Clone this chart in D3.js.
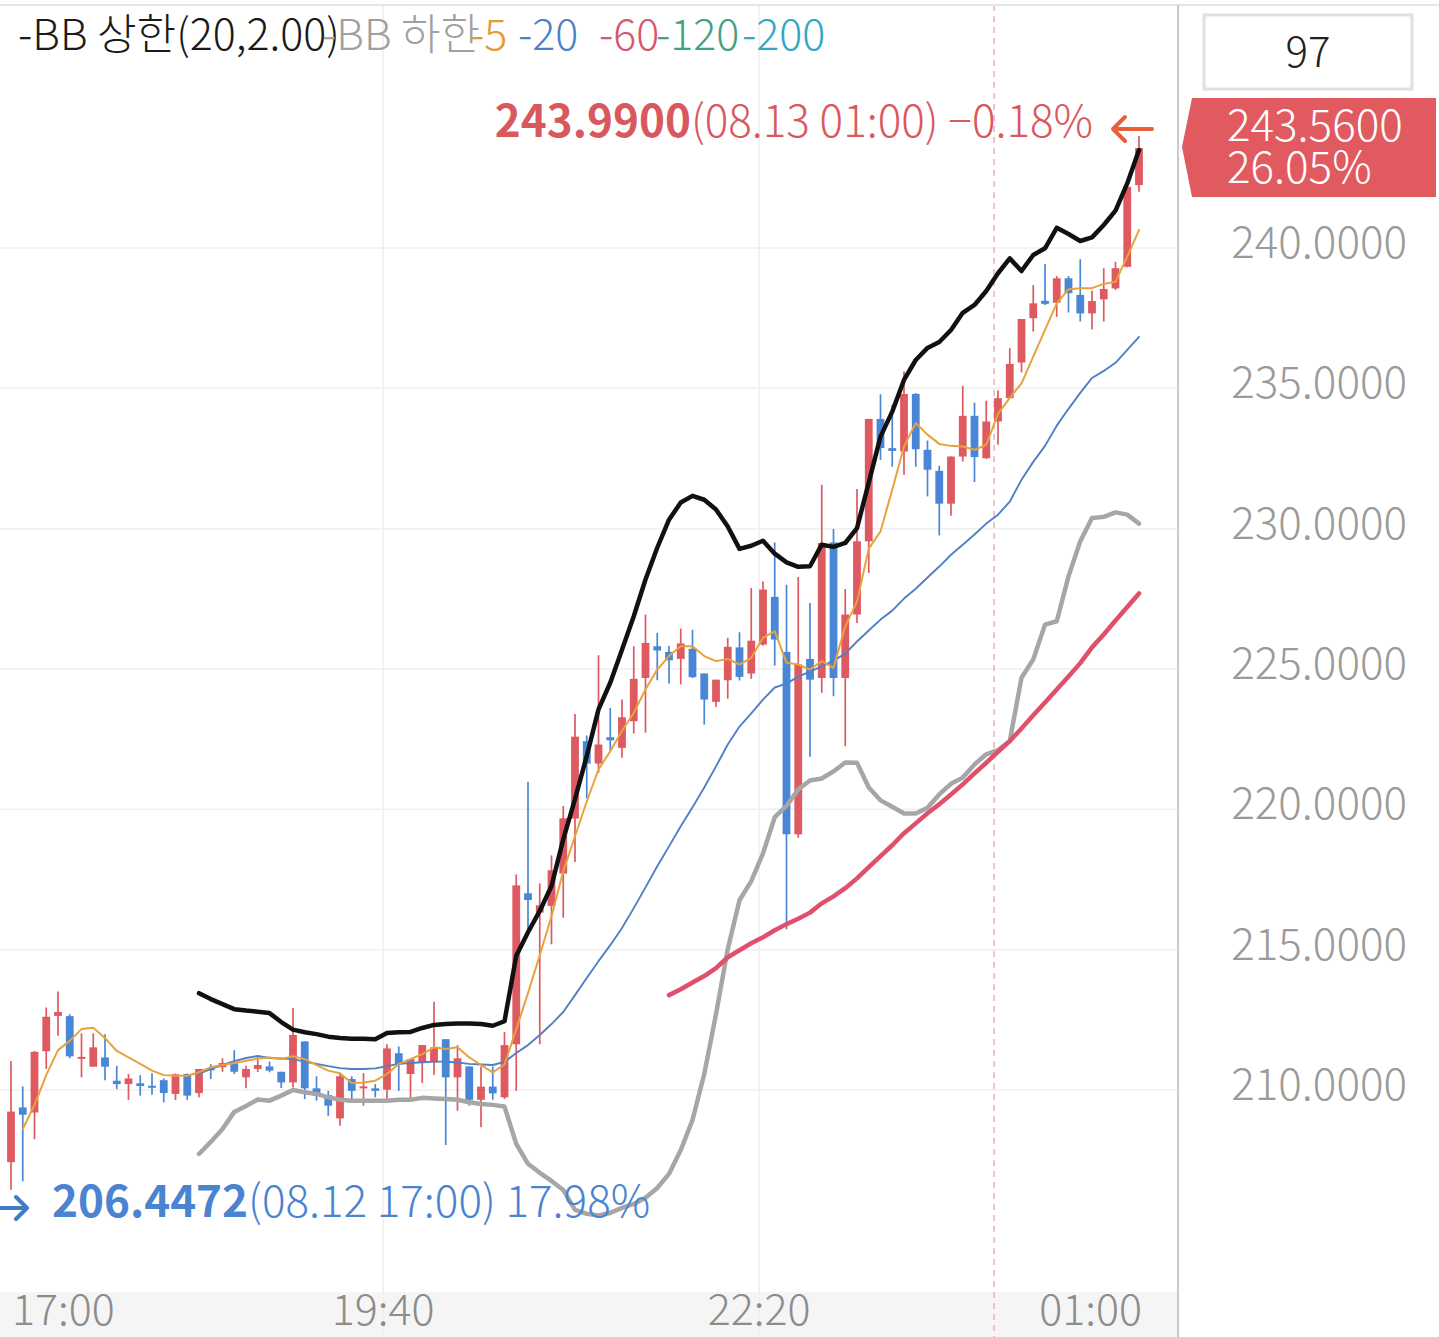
<!DOCTYPE html>
<html><head><meta charset="utf-8">
<script src="https://cdn.jsdelivr.net/npm/d3@7"></script>
<style>html,body{margin:0;padding:0;background:#fff}svg{display:block}</style>
</head><body>
<svg id="c" width="1439" height="1337"></svg>
<script>
// ---------- DATA (5-minute candles, 08.12 17:00 -> 08.13 01:00) ----------
const opens = [207.43,209.38,209.20,211.38,212.64,212.63,211.13,210.83,211.16,210.33,
210.21,210.24,210.15,210.35,209.86,210.57,209.89,210.77,210.81,210.95,
210.45,210.75,210.84,210.65,210.27,211.73,210.06,209.82,208.99,210.39,
210.06,210.06,210.01,211.31,210.57,210.96,210.98,211.81,210.45,210.84,
209.65,210.12,209.74,211.63,217.01,216.32,216.56,217.71,219.67,222.43,
221.63,222.57,222.19,223.14,224.68,225.81,225.61,225.36,225.72,224.84,
223.83,224.60,225.77,224.84,225.87,227.57,225.61,219.11,225.36,224.68,
229.51,224.68,226.94,229.55,233.91,232.87,232.75,234.80,232.81,232.06,
230.89,232.57,234.02,232.51,233.82,234.65,235.92,237.50,238.12,238.05,
238.92,238.33,237.67,238.17,238.56,239.33,242.24];
const highs = [211.03,210.13,211.39,212.94,213.51,212.70,212.02,212.02,211.99,210.86,
210.57,210.53,210.60,210.41,210.59,210.59,210.75,210.92,211.13,211.42,
210.86,211.21,211.01,210.65,212.92,211.73,210.49,209.97,210.57,210.49,
210.60,210.21,211.63,211.55,211.10,211.60,213.14,211.81,211.60,210.84,
210.84,210.84,212.07,217.68,220.98,217.36,218.36,220.12,223.40,222.63,
225.49,223.61,223.91,225.81,226.94,226.29,225.83,226.44,226.40,224.84,
224.62,226.11,226.31,227.89,228.12,229.51,228.00,228.28,227.35,231.56,
229.99,227.85,231.41,233.91,234.79,234.41,235.60,234.83,233.14,232.24,
232.57,235.09,234.49,234.56,234.92,236.43,237.47,238.68,239.43,239.00,
239.00,239.60,238.48,239.28,239.51,242.18,243.99];
const lows = [206.4472,206.75,208.25,210.75,211.93,211.13,210.45,210.83,210.35,210.03,
209.65,209.80,209.83,209.56,209.64,209.65,209.74,210.39,210.65,210.57,
210.06,210.64,210.63,210.07,210.09,209.68,209.62,209.08,208.73,209.68,
209.44,209.74,209.68,209.97,209.68,210.25,210.53,208.04,209.26,209.44,
208.67,209.65,209.68,209.97,215.67,211.63,215.19,216.14,218.12,220.39,
221.30,222.07,221.84,222.70,222.73,224.60,224.48,224.45,224.68,223.02,
223.65,223.94,224.59,224.65,225.83,225.12,215.73,218.99,221.87,224.15,
224.03,222.25,226.64,228.42,232.45,232.21,231.92,232.21,231.15,229.76,
230.46,232.39,231.66,232.48,232.99,234.65,235.57,237.02,237.97,237.55,
237.70,237.38,237.10,237.38,238.50,239.31,242.00];
const closes = [209.23,209.12,211.36,212.61,212.78,211.20,211.18,211.52,210.83,210.21,
210.41,210.14,210.08,209.89,210.56,209.80,210.75,210.72,210.96,210.65,
210.75,210.89,210.69,210.27,211.96,210.06,209.80,209.44,210.49,209.97,
210.13,209.97,211.48,210.92,211.10,211.60,211.52,210.45,211.13,209.65,
210.12,209.88,211.60,217.29,216.77,216.58,217.83,219.68,222.59,221.63,
222.31,222.46,223.28,224.65,225.93,225.66,225.31,225.91,224.71,223.91,
224.62,225.79,224.72,226.01,227.83,226.05,219.11,225.16,224.62,229.49,
224.68,226.94,229.55,233.91,232.87,232.77,234.80,232.83,232.10,230.89,
232.57,234.02,232.55,233.82,234.65,235.87,237.47,238.03,238.01,238.92,
238.39,237.67,238.11,238.54,239.28,242.18,243.56];

const N = null;
const ma5 = [N,208.61,209.47,210.53,211.42,211.75,212.17,212.22,211.85,211.39,211.16,
210.93,210.69,210.53,210.51,210.51,210.63,210.81,210.89,210.96,211.04,
211.12,211.16,211.10,211.20,211.10,210.89,210.69,210.60,210.25,210.27,
210.33,210.57,210.93,211.10,211.28,211.52,211.46,211.52,211.16,210.89,
210.63,210.91,212.17,213.45,214.80,216.19,217.79,219.04,220.28,221.42,
222.07,222.79,223.44,224.27,224.98,225.46,225.81,225.81,225.46,225.28,
225.36,225.16,225.40,226.11,226.35,225.22,225.16,224.98,225.28,225.04,
226.52,227.40,229.29,229.90,231.39,232.93,233.76,233.35,233.02,232.95,
232.93,232.81,232.99,234.09,234.66,235.18,236.13,237.08,238.03,238.53,
238.57,238.57,238.72,238.80,239.69,240.64];
const ma20 = [N,N,N,N,N,N,N,N,N,N,N,N,N,N,N,N,
210.57,210.75,210.89,211.03,211.14,211.21,211.14,211.12,211.10,211.01,
210.93,210.85,210.78,210.75,210.75,210.77,210.85,210.93,210.96,210.99,
211.01,211.01,210.98,210.93,210.91,210.89,211.00,211.32,211.60,211.96,
212.35,212.78,213.38,213.99,214.59,215.16,215.77,216.48,217.22,217.97,
218.68,219.40,220.07,220.78,221.53,222.31,222.95,223.42,223.91,224.34,
224.48,224.73,224.91,225.09,225.30,225.55,225.98,226.37,226.76,227.08,
227.51,227.86,228.26,228.65,229.07,229.43,229.79,230.18,230.50,230.96,
231.74,232.38,232.95,233.67,234.27,234.84,235.37,235.62,235.91,236.37,236.83];
const ma60 = [N,N,N,N,N,N,N,N,N,N,N,N,N,N,N,N,N,N,N,N,N,N,N,N,N,N,N,N,
N,N,N,N,N,N,N,N,N,N,N,N,N,N,N,N,N,N,N,N,N,N,N,N,N,N,N,N,
213.38,213.59,213.83,214.06,214.34,214.73,214.98,215.23,215.44,215.69,
215.91,216.10,216.32,216.65,216.90,217.19,217.54,217.94,218.33,218.72,
219.15,219.50,219.86,220.18,220.53,220.89,221.28,221.66,222.05,222.43,
222.88,223.35,223.81,224.27,224.73,225.21,225.77,226.23,226.73,227.21,227.69];
const bbUpper = [N,N,N,N,N,N,N,N,N,N,N,N,N,N,N,N,
213.45,213.24,213.06,212.88,212.83,212.79,212.74,212.42,212.15,212.06,
211.99,211.90,211.85,211.83,211.83,211.81,212.03,212.06,212.07,212.21,
212.32,212.35,212.37,212.37,212.35,212.29,212.45,214.78,215.62,216.38,
217.27,218.93,220.36,221.90,223.56,224.51,225.69,226.88,228.19,229.32,
230.32,230.93,231.17,231.03,230.68,230.08,229.28,229.39,229.57,229.11,
228.80,228.64,228.66,229.43,229.35,229.49,230.02,231.64,233.28,234.17,
235.30,236.01,236.44,236.65,237.08,237.69,237.97,238.47,239.10,239.63,
239.18,239.75,239.99,240.72,240.50,240.25,240.38,240.82,241.33,242.30,243.49];
const bbLower = [N,N,N,N,N,N,N,N,N,N,N,N,N,N,N,N,
207.72,208.15,208.61,209.22,209.43,209.66,209.62,209.80,210.00,209.92,
209.86,209.74,209.65,209.62,209.62,209.62,209.62,209.65,209.65,209.72,
209.70,209.68,209.65,209.56,209.50,209.47,209.41,208.08,207.37,207.05,
206.76,206.44,205.73,205.59,205.53,205.62,205.80,205.94,206.16,206.51,
207.01,207.86,208.93,210.57,212.70,215.02,216.76,217.44,218.43,219.72,
220.12,220.71,221.03,221.10,221.35,221.67,221.66,220.78,220.32,220.09,
219.85,219.85,220.06,220.53,220.91,221.13,221.60,221.96,222.11,222.43,
224.69,225.34,226.58,226.70,228.30,229.55,230.38,230.42,230.58,230.50,230.18];

const priceTicks = [210,215,220,225,230,235,240];
const timeTickIdx = [0,32,64,96];
const timeTickLabels = ["17:00","19:40","22:20","01:00"];
const dayBreakIdx = 84;               // 08.13 00:00
const highTime = "08.13 01:00";
const lowTime = "08.12 17:00";
const changeRate = "26.05%";
const legendLabels = ["-BB 상한(20,2.00)","-BB 하한","-5","-20","-60","-120","-200"];
const legendColors = ["#1a1a1a","#a0a0a0","#e39a2e","#4f7fc8","#d9566a","#41a27a","#2ea9c4"];

// ---------- LAYOUT ----------
const W = 1439, H = 1337;
const FONT = '"Noto Sans CJK KR","Noto Sans",sans-serif';
const plotRight = 1178, plotTop = 5, axisTop = 1292;
const legendX = [18,322,470,518,599,656,742];
const UP = "#de5a60", DOWN = "#4a86d6";

const svg = d3.select("#c").attr("font-family", FONT).attr("font-weight", 300);
const x = d3.scaleLinear().domain([0, opens.length - 1]).range([11, 1139]);
const y = d3.scaleLinear().domain([210, 240]).range([1090, 248]);
const bw = 7.8;

svg.append("rect").attr("width", W).attr("height", H).attr("fill", "#fff");
svg.append("rect").attr("x", 0).attr("y", axisTop).attr("width", plotRight).attr("height", H - axisTop).attr("fill", "#f5f5f5");

// horizontal grid
svg.append("g").selectAll("line").data(priceTicks).join("line")
  .attr("x1", 0).attr("x2", plotRight).attr("y1", d => y(d)).attr("y2", d => y(d))
  .attr("stroke", "#efefef").attr("stroke-width", 1.5);
// vertical grid (inner ticks)
svg.append("g").selectAll("line").data(timeTickIdx.slice(1, -1)).join("line")
  .attr("x1", d => x(d) - bw / 2).attr("x2", d => x(d) - bw / 2)
  .attr("y1", plotTop).attr("y2", H)
  .attr("stroke", "#efefef").attr("stroke-width", 1.5);
// day break
svg.append("line").attr("x1", x(dayBreakIdx) - bw / 2).attr("x2", x(dayBreakIdx) - bw / 2)
  .attr("y1", plotTop).attr("y2", H).attr("stroke", "#e8b8b8").attr("stroke-width", 1.6)
  .attr("stroke-dasharray", "6,5");

// top border & axis separator
svg.append("line").attr("x1", 0).attr("x2", W).attr("y1", 5).attr("y2", 5).attr("stroke", "#e6e6e6").attr("stroke-width", 2);
svg.append("line").attr("x1", plotRight).attr("x2", plotRight).attr("y1", 5).attr("y2", H).attr("stroke", "#c9c9c9").attr("stroke-width", 2);

// candles
const idx = d3.range(opens.length);
const cg = svg.append("g");
cg.selectAll("line").data(idx).join("line")
  .attr("x1", i => x(i)).attr("x2", i => x(i))
  .attr("y1", i => y(highs[i])).attr("y2", i => y(lows[i]))
  .attr("stroke", i => closes[i] >= opens[i] ? UP : DOWN).attr("stroke-width", 1.7);
cg.selectAll("rect").data(idx).join("rect")
  .attr("x", i => x(i) - bw / 2).attr("width", bw)
  .attr("y", i => y(Math.max(opens[i], closes[i])))
  .attr("height", i => Math.max(2, Math.abs(y(opens[i]) - y(closes[i]))))
  .attr("fill", i => closes[i] >= opens[i] ? UP : DOWN);

// lines
function drawLine(arr, color, width) {
  const pts = arr.map((v, i) => [i, v]).filter(d => d[1] !== null);
  svg.append("path").datum(pts)
    .attr("d", d3.line().x(d => x(d[0])).y(d => y(d[1])).curve(d3.curveLinear))
    .attr("fill", "none").attr("stroke", color).attr("stroke-width", width)
    .attr("stroke-linejoin", "round").attr("stroke-linecap", "round");
}
drawLine(bbLower, "#a6a6a6", 4.5);
drawLine(ma60, "#e0506c", 4.5);
drawLine(ma20, "#4f80c6", 1.9);
drawLine(ma5, "#e9a23b", 2);
drawLine(bbUpper, "#111111", 4.5);

// high / low annotations
const fmt4 = d3.format(".4f"), fmt2 = d3.format(".2f");
const last = closes[closes.length - 1];
const hi = d3.max(highs), lo = d3.min(lows);
const hiT = svg.append("text").attr("x", 1093).attr("y", 137).attr("text-anchor", "end")
  .attr("font-size", 44).attr("fill", "#d9585e");
hiT.append("tspan").attr("font-weight", "bold").text(fmt4(hi));
hiT.append("tspan").text(`(${highTime}) ${fmt2((last - hi) / hi * 100)}%`);
svg.append("path").attr("d", "M1113,129H1152M1125,117L1113,129L1125,141")
  .attr("fill", "none").attr("stroke", "#e8603a").attr("stroke-width", 4).attr("stroke-linecap", "round").attr("stroke-linejoin", "round");

const loT = svg.append("text").attr("x", 52).attr("y", 1217)
  .attr("font-size", 44).attr("fill", "#4a84d0");
loT.append("tspan").attr("font-weight", "bold").text(fmt4(lo));
loT.append("tspan").text(`(${lowTime}) ${fmt2((last - lo) / lo * 100)}%`);
svg.append("path").attr("d", "M1,1208H27M16,1197L27,1208L16,1219")
  .attr("fill", "none").attr("stroke", "#3d7bc6").attr("stroke-width", 4).attr("stroke-linecap", "round").attr("stroke-linejoin", "round");

// x-axis labels
svg.append("g").selectAll("text").data(timeTickIdx).join("text")
  .attr("x", (d, i) => i === 0 ? x(d) + 1 : i === timeTickIdx.length - 1 ? x(d) + 3 : x(d) - bw / 2)
  .attr("y", 1325)
  .attr("text-anchor", (d, i) => i === 0 ? "start" : i === timeTickIdx.length - 1 ? "end" : "middle")
  .attr("font-size", 43).attr("fill", "#8c8c8c")
  .text((d, i) => timeTickLabels[i]);

// y-axis labels
svg.append("g").selectAll("text").data(priceTicks).join("text")
  .attr("x", 1407).attr("y", d => y(d) + 10).attr("text-anchor", "end")
  .attr("font-size", 44).attr("fill", "#9a9a9a").text(d => fmt4(d));

// count box
svg.append("rect").attr("x", 1204).attr("y", 15).attr("width", 208).attr("height", 74)
  .attr("fill", "#fff").attr("stroke", "#dde1e4").attr("stroke-width", 3);
svg.append("text").attr("x", 1308).attr("y", 67).attr("text-anchor", "middle")
  .attr("font-size", 42).attr("fill", "#222").text(opens.length);

// current price tag
svg.append("path").attr("d", "M1192,98H1436V197H1192L1182,147Z").attr("fill", "#e05a60");
svg.append("text").attr("x", 1227).attr("y", 141).attr("font-size", 44).attr("fill", "#fff").text(fmt4(last));
svg.append("text").attr("x", 1227).attr("y", 183).attr("font-size", 44).attr("fill", "#fff").text(changeRate);

// legend
svg.append("g").selectAll("text").data(legendLabels).join("text")
  .attr("x", (d, i) => legendX[i]).attr("y", 50)
  .attr("font-size", 43).attr("fill", (d, i) => legendColors[i]).text(d => d);
</script>
</body></html>
